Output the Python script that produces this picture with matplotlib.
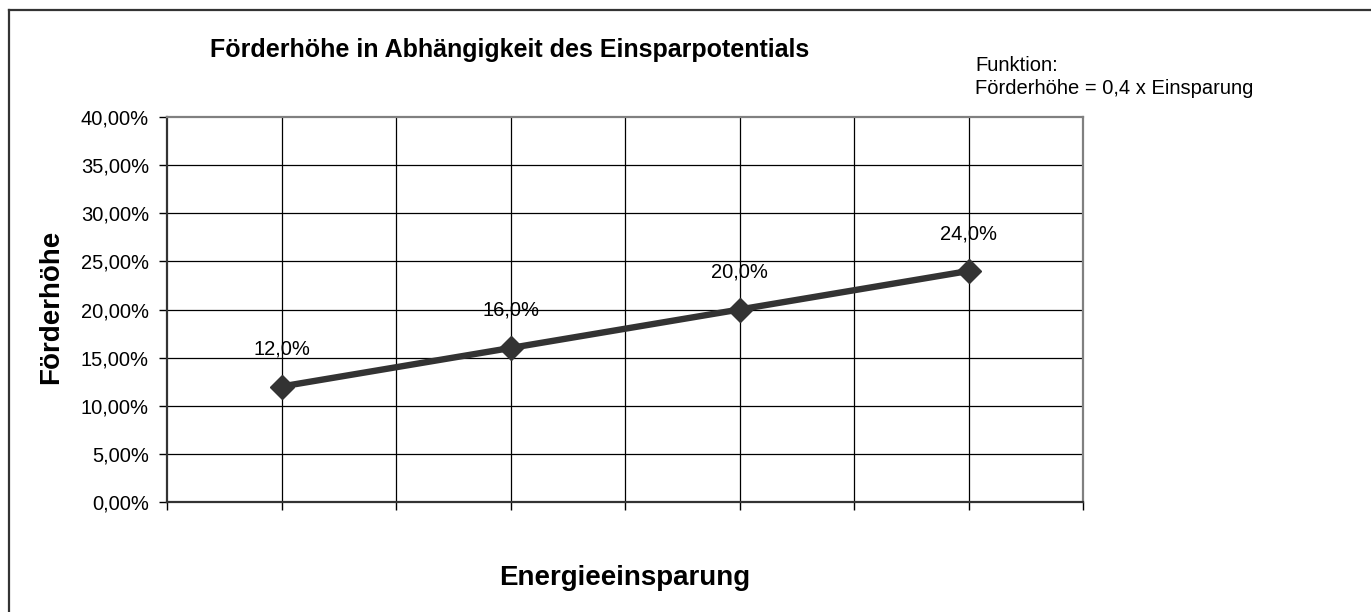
import matplotlib
matplotlib.use("Agg")
import matplotlib.pyplot as plt
from matplotlib.lines import Line2D

plt.rcParams['font.family'] = ['Liberation Sans', 'DejaVu Sans']

# Data
categories = ["30,00%", "40,00%", "50,00%", "60,00%"]
foerderhoehe = [12.0, 16.0, 20.0, 24.0]
data_labels = ["12,0%", "16,0%", "20,0%", "24,0%"]
y_ticks = [0, 5, 10, 15, 20, 25, 30, 35, 40]
y_tick_labels = ["0,00%", "5,00%", "10,00%", "15,00%", "20,00%",
                 "25,00%", "30,00%", "35,00%", "40,00%"]

W, H = 1371, 612
fig = plt.figure(figsize=(W / 100, H / 100), dpi=100)
fig.patch.set_facecolor('white')

def fx(px):
    return px / W

def fy(py):
    return 1 - py / H

# Outer frame (top and left visible)
fig.add_artist(Line2D([fx(8.5), fx(8.5)], [fy(9.5), 0], color='#333333', lw=1.6,
                      transform=fig.transFigure))
fig.add_artist(Line2D([fx(8.5), 1], [fy(9.5), fy(9.5)], color='#333333', lw=1.6,
                      transform=fig.transFigure))

left, right, top, bottom = 167, 1083, 117, 502
ax = fig.add_axes([fx(left), fy(bottom), (right - left) / W, (bottom - top) / H])

x = list(range(len(categories)))
ax.plot(x, foerderhoehe, color='#333333', lw=4.6, marker='D', markersize=12.5,
        markerfacecolor='#333333', markeredgecolor='#333333', markeredgewidth=1,
        zorder=5, clip_on=False)

for xi, yi, lab in zip(x, foerderhoehe, data_labels):
    ax.annotate(lab, (xi, yi), xytext=(0, 27), textcoords='offset points',
                ha='center', va='center', fontsize=14.5, color='black', zorder=6)

ax.set_xlim(-0.5, len(categories) - 0.5)
ax.set_ylim(0, 40)

# Gridlines
grid_x = [i * 0.5 - 0.5 for i in range(2 * len(categories) + 1)]
ax.set_xticks(grid_x)
ax.set_xticklabels([''] * len(grid_x))
ax.set_xticks(x, minor=True)
ax.set_xticklabels(categories, minor=True)
ax.tick_params(axis='x', which='minor', length=0, pad=19, labelsize=14.5)
ax.tick_params(axis='x', which='major', length=6, width=1, color='black', direction='out')

ax.set_yticks(y_ticks)
ax.set_yticklabels(y_tick_labels)
ax.tick_params(axis='y', length=6, width=1, color='black', direction='out', pad=7,
               labelsize=14.5)

for gx in grid_x[1:-1]:
    ax.axvline(gx, color='black', lw=0.9, zorder=1)
for gy in y_ticks[1:-1]:
    ax.axhline(gy, color='black', lw=0.9, zorder=1)

ax.spines['left'].set_color('#333333')
ax.spines['left'].set_linewidth(1.6)
ax.spines['bottom'].set_color('#333333')
ax.spines['bottom'].set_linewidth(1.6)
ax.spines['top'].set_color('#808080')
ax.spines['top'].set_linewidth(1.6)
ax.spines['right'].set_color('#808080')
ax.spines['right'].set_linewidth(1.6)

# Texts
fig.text(fx(510), fy(57), "Förderhöhe in Abhängigkeit des Einsparpotentials",
         ha='center', va='baseline', fontsize=18, fontweight='bold')
fig.text(fx(975), fy(71), "Funktion:", ha='left', va='baseline', fontsize=14.5)
fig.text(fx(975), fy(94), "Förderhöhe = 0,4 x Einsparung", ha='left', va='baseline',
         fontsize=14.5)
fig.text(fx(625), fy(585), "Energieeinsparung", ha='center', va='baseline',
         fontsize=20, fontweight='bold')
fig.text(fx(51), fy(307), "Förderhöhe", ha='center', va='center', rotation=90,
         fontsize=20, fontweight='bold')

fig.savefig('out.png', dpi=100, facecolor='white')
